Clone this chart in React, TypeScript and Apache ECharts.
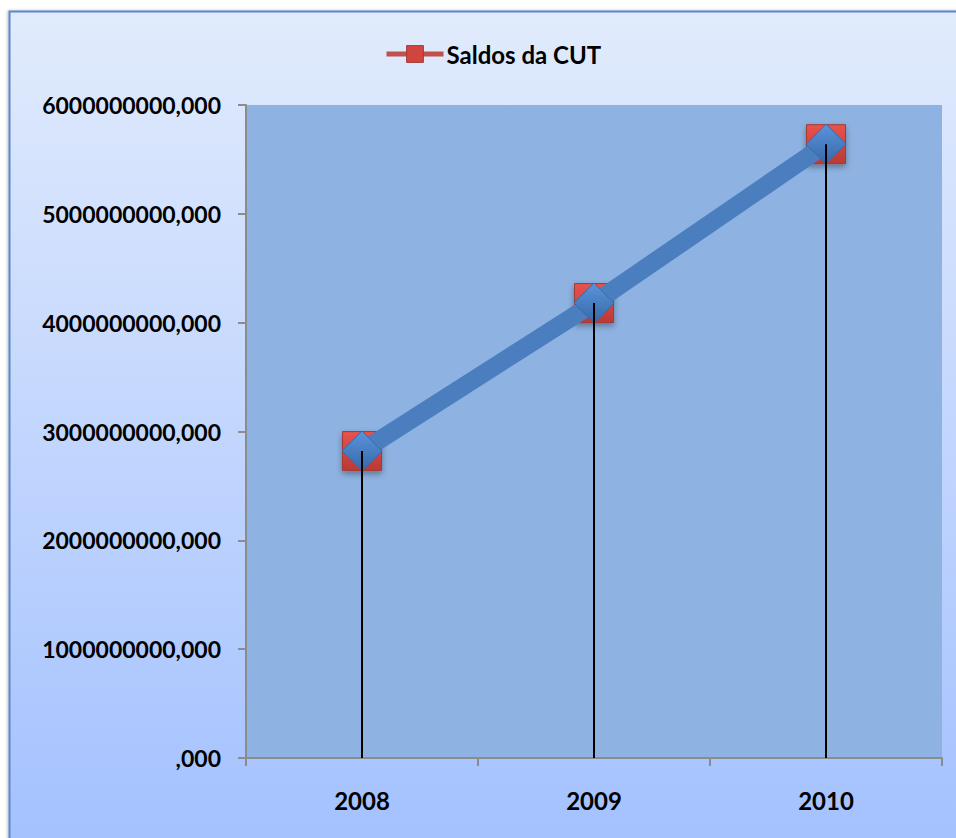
import React, { useEffect, useRef } from "react";
import * as echarts from "echarts";

const categories = ["2008", "2009", "2010"];
const saldos = [2820000000, 4180000000, 5640000000];
const seriesName = "Saldos da CUT";
const yMin = 0;
const yMax = 6000000000;
const yInterval = 1000000000;

export default function App() {
  const ref = useRef<HTMLDivElement>(null);
  useEffect(() => {
    const chart = echarts.init(ref.current!, null, { renderer: "svg" });
    const font = "Lato, 'Open Sans', sans-serif";
    chart.setOption({
      animation: false,
      backgroundColor: "#ffffff",
      graphic: [
        {
          type: "rect",
          z: -10,
          silent: true,
          shape: { x: 9.5, y: 11.5, width: 980, height: 860 },
          style: {
            fill: new echarts.graphic.LinearGradient(0, 0, 0, 1, [
              { offset: 0, color: "#E1EBFC" },
              { offset: 1, color: "#A2C0FF" },
            ]),
            stroke: "#5B87C8",
            lineWidth: 2,
            shadowBlur: 3,
            shadowColor: "rgba(0,0,0,0.25)",
            shadowOffsetX: -1,
          },
        },
      ],
      legend: {
        top: 37,
        left: 379,
        data: [
          {
            name: seriesName,
            itemStyle: { color: "#D2453F", borderColor: "#A33A36", borderWidth: 1 },
            lineStyle: { color: "#C0504D", width: 5 },
          },
        ],
        itemWidth: 57,
        itemHeight: 21,
        itemGap: 4,
        textStyle: { fontFamily: font, fontWeight: "bold", fontSize: 24, color: "#000", padding: [0, 0, 0, -2] },
      },
      grid: {
        left: 246,
        top: 105,
        right: 14,
        bottom: 80,
        show: true,
        backgroundColor: "#8EB3E2",
        borderWidth: 0,
      },
      xAxis: {
        type: "category",
        data: categories,
        boundaryGap: true,
        axisLine: { lineStyle: { color: "#8C8C8C", width: 2 } },
        axisTick: { show: true, length: 8, lineStyle: { color: "#8C8C8C", width: 2 } },
        axisLabel: {
          margin: 30,
          fontFamily: font,
          fontWeight: "bold",
          fontSize: 24,
          color: "#000",
        },
        splitLine: { show: false },
      },
      yAxis: {
        type: "value",
        min: yMin,
        max: yMax,
        interval: yInterval,
        axisLine: { show: true, lineStyle: { color: "#8C8C8C", width: 2 } },
        axisTick: { show: true, length: 8, lineStyle: { color: "#8C8C8C", width: 2 } },
        splitLine: { show: false },
        axisLabel: {
          margin: 25,
          fontFamily: font,
          fontWeight: "bold",
          fontSize: 23,
          color: "#000",
          formatter: (v: number) => (v === 0 ? ",000" : v.toFixed(0) + ",000"),
        },
      },
      series: [
        {
          name: seriesName,
          type: "line",
          data: saldos,
          z: 2,
          symbol: "rect",
          symbolSize: 39,
          lineStyle: { color: "#C0504D", width: 5 },
          itemStyle: {
            color: new echarts.graphic.LinearGradient(0, 0, 0, 1, [
              { offset: 0, color: "#E8534D" },
              { offset: 1, color: "#B93A36" },
            ]),
            borderColor: "#A33A36",
            borderWidth: 1,
            shadowBlur: 6,
            shadowColor: "rgba(0,0,0,0.35)",
            shadowOffsetY: 3,
          },
        },
        {
          name: "blue",
          type: "line",
          data: saldos,
          z: 3,
          symbol: "diamond",
          symbolSize: 40,
          lineStyle: { color: "#4A7EBF", width: 18 },
          itemStyle: {
            color: new echarts.graphic.LinearGradient(0, 0, 0, 1, [
              { offset: 0, color: "#5A94DB" },
              { offset: 1, color: "#3768A8" },
            ]),
            borderColor: "#3A6AAA",
            borderWidth: 1,
          },
        },
        {
          name: "drop",
          type: "bar",
          data: saldos,
          z: 4,
          barWidth: 2,
          itemStyle: { color: "#000" },
        },
      ],
    });
    return () => chart.dispose();
  }, []);
  return (
    <div
      ref={ref}
      style={{ position: "fixed", left: 0, top: 0, width: 956, height: 838 }}
    />
  );
}
